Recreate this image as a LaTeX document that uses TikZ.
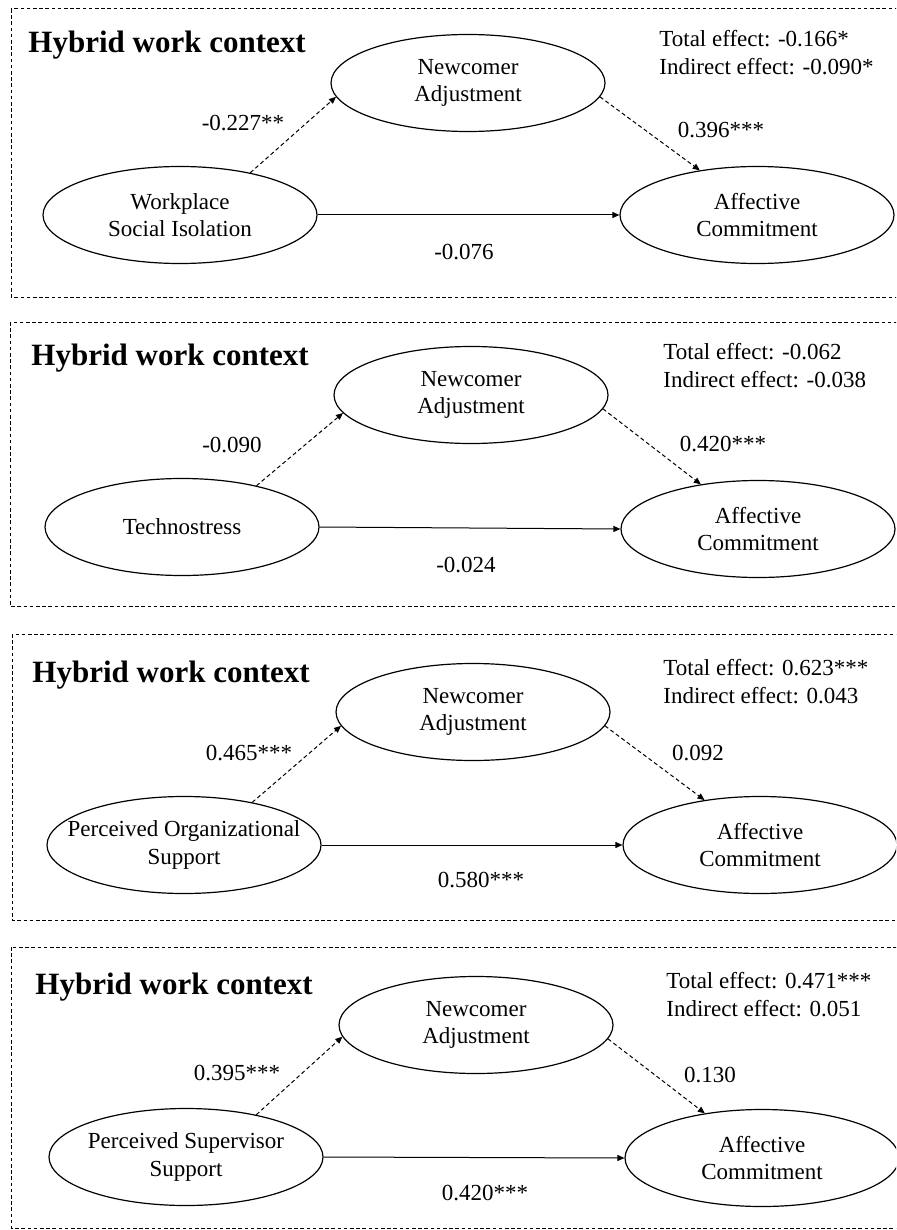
\documentclass[tikz,border=0pt]{standalone}
\usepackage{fontspec}
\setmainfont{Liberation Serif}
\usetikzlibrary{shapes.geometric,arrows.meta}
\tikzset{
  oval/.style={ellipse,draw,line width=0.6pt,minimum width=137pt,minimum height=48.5pt,
    inner xsep=-12pt,inner ysep=0pt,align=center,font=\fontsize{11.5pt}{13.75pt}\selectfont},
  paneltitle/.style={anchor=west,inner sep=0pt,font=\fontsize{15.5pt}{18pt}\selectfont\bfseries},
  effect/.style={anchor=west,inner sep=0pt,align=left,font=\fontsize{11.5pt}{14pt}\selectfont},
  coef/.style={inner sep=0pt,font=\fontsize{11.5pt}{13.75pt}\selectfont},
  frame/.style={line width=0.5pt,dash pattern=on 1.8pt off 1.3pt},
  indirect/.style={line width=0.5pt,dash pattern=on 2pt off 1.4pt,-{Triangle[length=3.5pt,width=3pt]}},
  direct/.style={line width=0.5pt,-{Triangle[length=3.5pt,width=3pt]}}
}
\begin{document}
\begin{tikzpicture}[x=0.5pt,y=-0.5pt]
  \path[use as bounding box] (0,0) rectangle (896,1230);
  \clip (0,0) rectangle (896,1230);

  % panel 1
  \draw[frame] (11,9) rectangle (920,297);
  \node[paneltitle] (title1) at (28,45) {Hybrid work context};
  \node[effect] (eff1) at (659,53) {Total effect: -0.166*\\Indirect effect: -0.090*};
  \node[oval] (wsi) at (180,215) {Workplace\\Social Isolation};
  \node[oval] (nadj1) at (468,83) {Newcomer\\Adjustment};
  \node[oval] (acom1) at (757,215) {Affective\\Commitment};
  \draw[indirect] (wsi.31) -- (nadj1.186);
  \draw[indirect] (nadj1.-6) -- (acom1.142);
  \draw[direct] (wsi.east) -- (acom1.west);
  \node[coef] (a1) at (243,123) {-0.227**};
  \node[coef] (b1) at (721,130) {0.396***};
  \node[coef] (c1) at (464,252) {-0.076};

  % panel 2
  \draw[frame] (10,322) rectangle (920,606);
  \node[paneltitle] (title2) at (31,358) {Hybrid work context};
  \node[effect] (eff2) at (663,366) {Total effect: -0.062\\Indirect effect: -0.038};
  \node[oval] (tech) at (182,527) {Technostress};
  \node[oval] (nadj2) at (471,395) {Newcomer\\Adjustment};
  \node[oval] (acom2) at (758,529) {Affective\\Commitment};
  \draw[indirect] (tech.29) -- (nadj2.188);
  \draw[indirect] (nadj2.-6) -- (acom2.142);
  \draw[direct] (tech.east) -- (acom2.west);
  \node[coef] (a2) at (232,445) {-0.090};
  \node[coef] (b2) at (723,444) {0.420***};
  \node[coef] (c2) at (466,565) {-0.024};

  % panel 3
  \draw[frame] (12,634) rectangle (920,920);
  \node[paneltitle] (title3) at (32,675) {Hybrid work context};
  \node[effect] (eff3) at (663,682) {Total effect: 0.623***\\Indirect effect: 0.043};
  \node[oval] (pos) at (184,845) {Perceived Organizational\\Support};
  \node[oval] (nadj3) at (473,712) {Newcomer\\Adjustment};
  \node[oval] (acom3) at (760,845) {Affective\\Commitment};
  \draw[indirect] (pos.32) -- (nadj3.186);
  \draw[indirect] (nadj3.-6) -- (acom3.141);
  \draw[direct] (pos.east) -- (acom3.west);
  \node[coef] (a3) at (249,753) {0.465***};
  \node[coef] (b3) at (698,753) {0.092};
  \node[coef] (c3) at (481,880) {0.580***};

  % panel 4
  \draw[frame] (11,947) rectangle (920,1228);
  \node[paneltitle] (title4) at (35,987) {Hybrid work context};
  \node[effect] (eff4) at (666,995) {Total effect: 0.471***\\Indirect effect: 0.051};
  \node[oval] (pss) at (186,1157) {Perceived Supervisor\\Support};
  \node[oval] (nadj4) at (476,1025) {Newcomer\\Adjustment};
  \node[oval] (acom4) at (762,1158) {Affective\\Commitment};
  \draw[indirect] (pss.31) -- (nadj4.185);
  \draw[indirect] (nadj4.-6) -- (acom4.142);
  \draw[direct] (pss.east) -- (acom4.west);
  \node[coef] (a4) at (237,1073) {0.395***};
  \node[coef] (b4) at (710,1075) {0.130};
  \node[coef] (c4) at (485,1193) {0.420***};
\end{tikzpicture}
\end{document}
